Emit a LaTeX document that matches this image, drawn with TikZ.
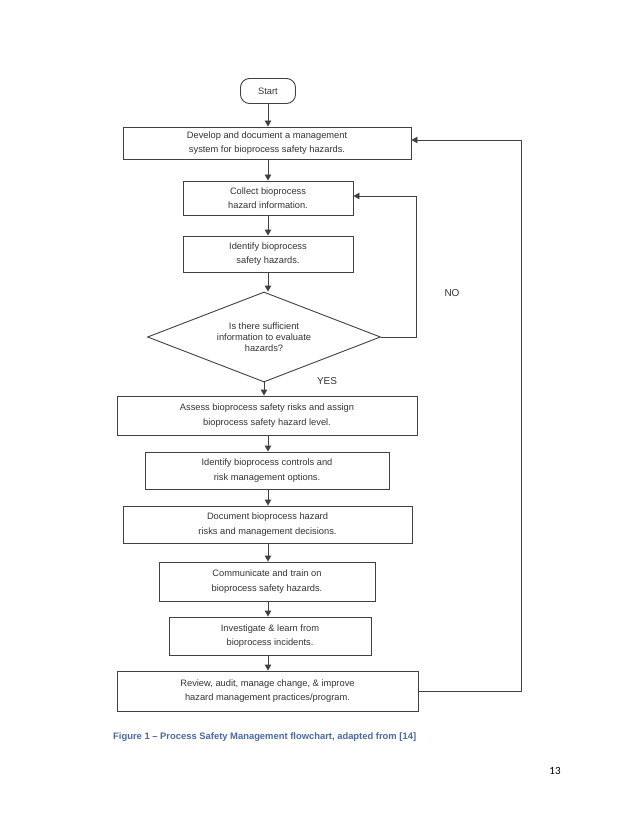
\documentclass[tikz,border=0pt]{standalone}
\usepackage{fontspec}
\setmainfont{Liberation Sans}
\newfontfamily\pagefont{Carlito}
\usetikzlibrary{shapes.geometric,arrows.meta}
\definecolor{linec}{HTML}{404040}
\definecolor{textc}{HTML}{333333}
\definecolor{capblue}{HTML}{4A6A9E}
\begin{document}
\begin{tikzpicture}[x=1pt,y=-1pt,
  every node/.style={text=textc},
  box/.style={draw=linec, line width=0.9pt, fill=white, align=center, inner sep=0pt,
    font=\fontsize{9.3}{14.5}\selectfont},
  arr/.style={draw=linec, line width=0.9pt, -{Triangle[length=6pt,width=6.5pt]}},
  lbl/.style={font=\fontsize{10}{12}\selectfont}]
\useasboundingbox (0,0) rectangle (638,826);
\fill[white] (0,0) rectangle (638,826);

\node[box, rounded corners=9pt, minimum width=55pt, minimum height=25pt] (st) at (268,91) {Start};
\node[box, minimum width=288pt, minimum height=32pt] (b1) at (267,143) {Develop and document a management\\system for bioprocess safety hazards.};
\node[box, minimum width=170pt, minimum height=34pt, font=\fontsize{9.3}{14}\selectfont] (b2) at (268,198) {Collect bioprocess\\hazard information.};
\node[box, minimum width=170pt, minimum height=36pt, font=\fontsize{9.3}{14}\selectfont] (b3) at (268,254) {Identify bioprocess\\safety hazards.};
\node[box, diamond, aspect=2.6, minimum width=233pt, minimum height=90pt, font=\fontsize{9.3}{11.2}\selectfont] (d) at (264,337) {Is there sufficient\\information to evaluate\\hazards?};
\node[box, minimum width=300pt, minimum height=39pt] (b4) at (267,415.5) {Assess bioprocess safety risks and assign\\bioprocess safety hazard level.};
\node[box, minimum width=244pt, minimum height=37pt] (b5) at (267,470.5) {Identify bioprocess controls and\\risk management options.};
\node[box, minimum width=289pt, minimum height=37pt] (b6) at (267.5,524.5) {Document bioprocess hazard\\risks and management decisions.};
\node[box, minimum width=216pt, minimum height=39pt] (b7) at (267,581.5) {Communicate and train on\\bioprocess safety hazards.};
\node[box, minimum width=202pt, minimum height=38pt] (b8) at (270,636) {Investigate \& learn from\\bioprocess incidents.};
\node[box, minimum width=301pt, minimum height=40pt] (b9) at (267.5,691) {Review, audit, manage change, \& improve\\hazard management practices/program.};

\draw[arr] (st.south) -- (st.south |- b1.north);
\draw[arr] (b1.south -| st.south) -- (st.south |- b2.north);
\draw[arr] (b2.south) -- (b3.north);
\draw[arr] (b3.south) -- (b3.south |- d.north);
\draw[arr] (d.south) -- (d.south |- b4.north);
\draw[arr] (b4.south -| st.south) -- (st.south |- b5.north);
\draw[arr] (b5.south -| st.south) -- (st.south |- b6.north);
\draw[arr] (b6.south -| st.south) -- (st.south |- b7.north);
\draw[arr] (b7.south -| st.south) -- (st.south |- b8.north);
\draw[arr] (b8.south -| st.south) -- (st.south |- b9.north);

\coordinate (noc) at (416,196);
\draw[arr] (d.east) -| (noc) -- (noc -| b2.east);
\coordinate (fbc) at (521,140);
\draw[arr] (b9.east) -| (fbc) -- (fbc -| b1.east);

\node[lbl] (no) at (452,293) {NO};
\node[lbl] (yes) at (327,381) {YES};

\node[anchor=west, text=capblue, inner sep=0pt, font=\fontsize{9.4}{11}\selectfont\bfseries] (cap) at (113,737)
  {Figure 1 – Process Safety Management flowchart, adapted from [14]};
\node[text=black, inner sep=0pt, font=\pagefont\fontsize{11}{13}\selectfont] (pg) at (555,771) {13};
\end{tikzpicture}
\end{document}
